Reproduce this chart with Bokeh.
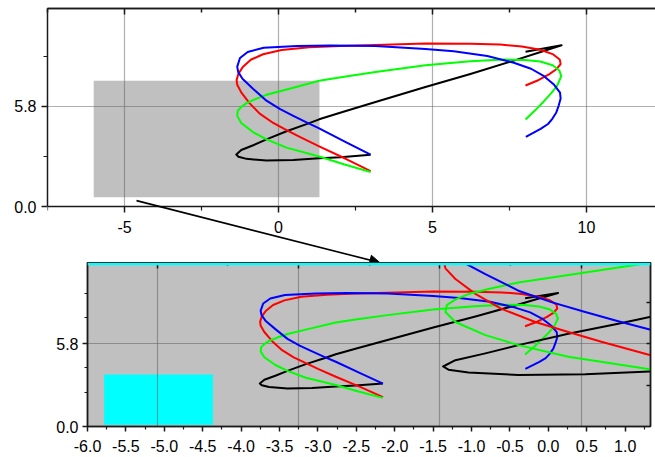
from bokeh.plotting import figure
from bokeh.models import (Range1d, LinearAxis, FixedTicker, Grid, Arrow, NormalHead,
                          Span, NumeralTickFormatter)
from bokeh.layouts import column
from bokeh.embed import file_html
from bokeh.resources import INLINE

# ---------------- data ----------------
BLACK_X = [2.99, 2.01, 1.32, 0.48, -0.39, -1.04, -1.30, -1.37, -1.21, -0.82, -0.39, 0.26, 0.91, 1.32, 2.08, 3.15, 4.77, 6.23, 7.64, 8.51, 9.19, 8.02]
BLACK_Y = [3.00, 2.86, 2.80, 2.69, 2.66, 2.76, 2.88, 3.01, 3.27, 3.55, 3.89, 4.36, 4.77, 5.05, 5.47, 6.05, 6.92, 7.68, 8.45, 8.95, 9.34, 8.97]

RED_X = [2.99, 2.20, 1.32, 0.69, 0.26, -0.17, -0.61, -0.95, -1.21, -1.34, -1.36, -1.30, -1.15, -0.90, -0.50, 0.10, 1.00, 2.00, 3.15, 4.77, 6.23, 7.20, 7.90, 8.50, 8.90, 9.13, 9.16, 9.02, 8.78, 8.45, 8.02]
RED_Y = [2.05, 2.75, 3.48, 4.03, 4.43, 4.84, 5.38, 6.00, 6.61, 7.05, 7.32, 7.70, 8.10, 8.50, 8.82, 9.07, 9.22, 9.30, 9.36, 9.44, 9.43, 9.38, 9.27, 9.08, 8.83, 8.52, 8.25, 7.95, 7.65, 7.33, 7.01]

GREEN_X = [2.99, 2.12, 1.32, 0.26, -0.39, -0.82, -1.21, -1.34, -1.32, -1.20, -1.04, -0.75, -0.39, 0.48, 1.32, 2.08, 3.15, 4.77, 6.23, 7.30, 8.00, 8.50, 8.90, 9.12, 9.18, 9.05, 8.85, 8.62, 8.35, 8.02]
GREEN_Y = [2.00, 2.45, 2.90, 3.41, 3.89, 4.30, 4.84, 5.25, 5.55, 5.78, 5.99, 6.22, 6.47, 6.88, 7.28, 7.50, 7.79, 8.18, 8.41, 8.51, 8.49, 8.40, 8.18, 7.88, 7.55, 7.00, 6.55, 6.10, 5.60, 5.04]

BLUE_X = [2.99, 2.20, 1.32, 0.91, 0.48, 0.04, -0.39, -0.82, -1.17, -1.31, -1.34, -1.25, -1.00, -0.48, 0.61, 1.69, 3.15, 4.77, 5.69, 6.78, 7.64, 8.20, 8.62, 8.95, 9.14, 9.16, 9.10, 9.02, 8.89, 8.75, 8.51, 8.03]
BLUE_Y = [3.00, 3.72, 4.53, 4.87, 5.25, 5.66, 6.13, 6.81, 7.40, 7.80, 8.10, 8.60, 8.95, 9.20, 9.30, 9.33, 9.30, 9.12, 8.99, 8.72, 8.33, 7.98, 7.55, 7.05, 6.60, 6.25, 5.86, 5.45, 5.08, 4.78, 4.50, 4.03]

SERIES = [("black", BLACK_X, BLACK_Y), ("#ff0000", RED_X, RED_Y),
          ("#00ff00", GREEN_X, GREEN_Y), ("#0000ff", BLUE_X, BLUE_Y)]

# axis ranges / ticks
TOP_X_RANGE = (-7.5, 12.24)          # visible part of the upper layer
FULL_X_RANGE = (-7.47, 12.46)        # full upper layer (as shown in the thumbnail)
TOP_Y_RANGE = (0.0, 11.47)
ZOOM_X = (-6.0, 1.33)                # zoomed region (grey box)
ZOOM_Y = (0.54, 7.29)

TOP_X_MAJOR = [-5, 0, 5, 10]
TOP_X_MINOR = [-7.5, -2.5, 2.5, 7.5, 12.5]
TOP_Y_MAJOR = [0.0, 5.8]
TOP_Y_MINOR = [2.9, 8.7]
BOT_X_MAJOR = [-6.0, -5.5, -5.0, -4.5, -4.0, -3.5, -3.0, -2.5, -2.0, -1.5, -1.0, -0.5, 0.0, 0.5, 1.0]
BOT_X_MINOR = [-5.75, -5.25, -4.75, -4.25, -3.75, -3.25, -2.75, -2.25, -1.75, -1.25, -0.75, -0.25, 0.25, 0.75, 1.25]
BOT_Y_MINOR = [2.40, 4.15, 7.59, 9.32]

CYAN_BOX_X = (-6.88, -3.03)
CYAN_BOX_Y = (0.12, 3.63)
CYAN_LINE_Y = 11.36

ARROW_X = (-4.61, 3.29)
ARROW_Y = (0.34, -3.25)

# ---------------- layout constants (pixels) ----------------
T_LEFT, T_TOP, T_FW, T_PANEL_H, T_FH = 47, 8, 608, 198, 254
B_LEFT, B_FW, B_FH, B_BOTTOM, B_RIGHT = 87, 563, 164, 31, 5

FONT = "Liberation Sans"
AXC = "#1a1a1a"
GRIDC = "#606060"


def base_axis(ax):
    ax.axis_line_color = AXC
    ax.axis_line_width = 1.5
    ax.major_tick_line_color = AXC
    ax.minor_tick_line_color = AXC
    ax.major_tick_line_width = 1.5
    ax.minor_tick_line_width = 1.2


def label_axis(ax, major, minor, out_major, out_minor, standoff, fmt):
    base_axis(ax)
    ax.ticker = FixedTicker(ticks=major, minor_ticks=minor)
    ax.major_tick_out = out_major
    ax.minor_tick_out = out_minor
    ax.major_tick_in = 0
    ax.minor_tick_in = 0
    ax.major_label_standoff = standoff
    ax.major_label_text_font = FONT
    ax.major_label_text_font_size = "16px"
    ax.major_label_text_color = "black"
    ax.formatter = NumeralTickFormatter(format=fmt)


def tick_only_axis(ticks, length, **kw):
    # an axis that only shows inward tick marks (no labels)
    ax = LinearAxis(**kw)
    base_axis(ax)
    ax.ticker = FixedTicker(ticks=[], minor_ticks=ticks)
    ax.major_tick_in = 0
    ax.major_tick_out = 0
    ax.minor_tick_in = length
    ax.minor_tick_out = 0
    ax.minor_tick_line_width = 1.5
    ax.major_label_standoff = 0
    return ax


def no_align(p):
    try:
        p.frame_align = False
    except Exception:
        pass


# ---------------- upper plot ----------------
y_per_px = (TOP_Y_RANGE[1] - TOP_Y_RANGE[0]) / T_PANEL_H
top_y_start = TOP_Y_RANGE[0] - (T_FH - T_PANEL_H) * y_per_px

p1 = figure(frame_width=T_FW, frame_height=T_FH,
            x_range=Range1d(*TOP_X_RANGE), y_range=Range1d(top_y_start, TOP_Y_RANGE[1]),
            output_backend="svg", toolbar_location=None,
            min_border_left=T_LEFT, min_border_right=0, min_border_top=T_TOP,
            min_border_bottom=0, outline_line_color=None,
            background_fill_color="white", border_fill_color="white")
no_align(p1)

xa = p1.xaxis[0]
label_axis(xa, TOP_X_MAJOR, TOP_X_MINOR, 6, 4, 8, "0")
xa.fixed_location = TOP_Y_RANGE[0]
ya = p1.yaxis[0]
label_axis(ya, TOP_Y_MAJOR, TOP_Y_MINOR, 6, 4, 5, "0.0")
ya.bounds = TOP_Y_RANGE
p1.add_layout(tick_only_axis(TOP_X_MAJOR, 6), "above")
p1.add_layout(tick_only_axis(TOP_X_MINOR, 4), "above")

for g in p1.grid:
    g.grid_line_color = GRIDC
    g.grid_line_alpha = 0.5
    g.grid_line_width = 1.2
p1.ygrid[0].ticker = FixedTicker(ticks=[5.8])
try:
    p1.xgrid[0].cross_bounds = TOP_Y_RANGE
except Exception:
    p1.xgrid[0].visible = False
    p1.segment(x0=TOP_X_MAJOR, x1=TOP_X_MAJOR, y0=[TOP_Y_RANGE[0]] * len(TOP_X_MAJOR),
               y1=[TOP_Y_RANGE[1]] * len(TOP_X_MAJOR), line_color=GRIDC, line_alpha=0.5,
               line_width=1.2, level="underlay")

p1.quad(left=[ZOOM_X[0]], right=[ZOOM_X[1]], bottom=[ZOOM_Y[0]], top=[ZOOM_Y[1]],
        fill_color="#c0c0c0", line_color=None, level="image")

for col, xs, ys in SERIES:
    p1.line(xs, ys, line_color=col, line_width=2, line_join="round")

p1.add_layout(Arrow(end=NormalHead(size=10, fill_color="black", line_color="black", line_width=1),
                    x_start=ARROW_X[0], y_start=ARROW_Y[0],
                    x_end=ARROW_X[1], y_end=ARROW_Y[1],
                    line_color="black", line_width=1.6))

# ---------------- lower (zoomed) plot ----------------
p2 = figure(frame_width=B_FW, frame_height=B_FH,
            x_range=Range1d(*ZOOM_X), y_range=Range1d(*TOP_Y_RANGE),
            output_backend="svg", toolbar_location=None,
            min_border_left=B_LEFT, min_border_right=B_RIGHT, min_border_top=0,
            min_border_bottom=B_BOTTOM, outline_line_color="#333333",
            outline_line_width=1.5,
            background_fill_color="#c0c0c0", border_fill_color="white")
no_align(p2)
p2.extra_x_ranges = {"thumb": Range1d(*FULL_X_RANGE)}
p2.extra_y_ranges = {"zoom": Range1d(*ZOOM_Y)}

label_axis(p2.xaxis[0], BOT_X_MAJOR, BOT_X_MINOR, 5, 3, 8, "0.0")
label_axis(p2.yaxis[0], TOP_Y_MAJOR, BOT_Y_MINOR, 5, 3, 4, "0.0")
p2.add_layout(tick_only_axis(TOP_X_MAJOR, 6, x_range_name="thumb"), "above")
p2.add_layout(tick_only_axis(TOP_X_MINOR, 3, x_range_name="thumb"), "above")
p2.add_layout(tick_only_axis(TOP_Y_MINOR + [5.8], 4), "right")

for g in p2.grid:
    g.visible = False
p2.add_layout(Grid(dimension=0, x_range_name="thumb", ticker=FixedTicker(ticks=TOP_X_MAJOR),
                   grid_line_color=GRIDC, grid_line_alpha=0.55, grid_line_width=1.2))
p2.add_layout(Grid(dimension=1, ticker=FixedTicker(ticks=[5.8]),
                   grid_line_color=GRIDC, grid_line_alpha=0.55, grid_line_width=1.2))

p2.quad(left=[CYAN_BOX_X[0]], right=[CYAN_BOX_X[1]], bottom=[CYAN_BOX_Y[0]], top=[CYAN_BOX_Y[1]],
        x_range_name="thumb", fill_color="#00ffff", line_color=None, level="image")
p2.add_layout(Span(location=CYAN_LINE_Y, dimension="width", line_color="#00ffff", line_width=2.5))

for col, xs, ys in SERIES:
    p2.line(xs, ys, x_range_name="thumb", line_color=col, line_width=2, line_join="round")
for col, xs, ys in SERIES:
    p2.line(xs, ys, y_range_name="zoom", line_color=col, line_width=2, line_join="round")

layout = column(p1, p2, spacing=0)
open("out.html", "w").write(file_html(layout, INLINE))
